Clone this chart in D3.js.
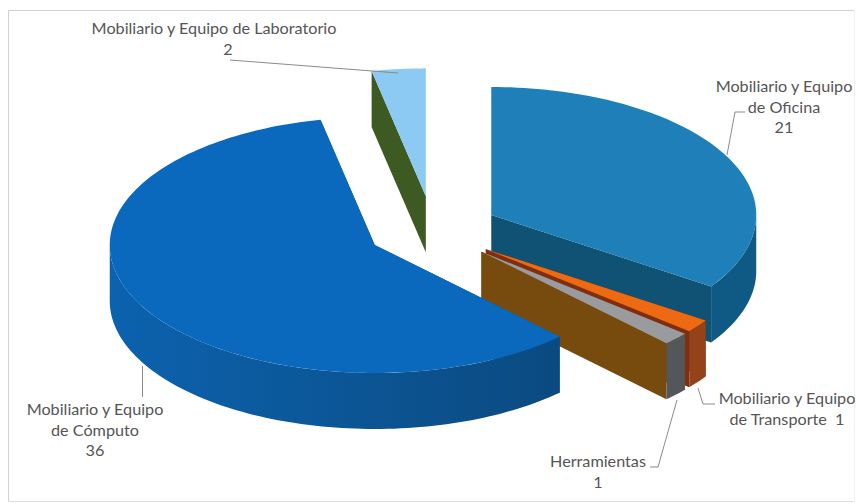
<!DOCTYPE html>
<html>
<head>
<meta charset="utf-8">
<script src="https://cdn.jsdelivr.net/npm/d3@7"></script>
<style>
  html, body { margin: 0; padding: 0; background: #fff; }
  text { font-family: Lato, "Open Sans", sans-serif; font-size: 16.2px; fill: #555; }
</style>
</head>
<body>
<svg width="858" height="504"></svg>
<script>
// datos del grafico
const categorias = ["Mobiliario y Equipo de Oficina", "Mobiliario y Equipo de Transporte", "Herramientas", "Mobiliario y Equipo de Cómputo", "Mobiliario y Equipo de Laboratorio"];
const valores = [21, 1, 1, 36, 2];

// colores: tapa, pared radial, borde exterior
const colorTapa = ["#1f7fb9", "#ee6a12", "#9a9b9e", "#0a69bd", "#8ccaf3"];
const colorPared = ["#0f5273", "#7e2f12", "#774a0d", "#0b4f8e", "#3d5a22"];
const colorBorde = ["#0f5a84", "#93421a", "#55565a", "url(#bordeComputo)", "#3d5a22"];

const svg = d3.select("svg");

// degradado del borde de la rebanada grande
const grad = svg.append("defs").append("linearGradient").attr("id", "bordeComputo");
grad.append("stop").attr("offset", "0%").attr("stop-color", "#0c62ae");
grad.append("stop").attr("offset", "100%").attr("stop-color", "#0b4a80");

// geometria del pastel
const centro = { x: 433, y: 230 };
const radioX = 265, radioY = 128, alto = 56;
const explosion = [66, 66, 66, 66, 70];

const pie = d3.pie().sort(null).value(d => d);
const arcos = pie(valores);

function punto(a, ap, z) {
  return [ap[0] + radioX * Math.sin(a), ap[1] - radioY * Math.cos(a) + z];
}
function tramo(a0, a1, ap, z) {
  const n = Math.max(2, Math.ceil((a1 - a0) * 40));
  return d3.range(n + 1).map(i => punto(a0 + (a1 - a0) * i / n, ap, z));
}
const linea = d3.line();

// marco del grafico
svg.append("path").attr("d", "M8.5,501.5V10.5H854").attr("fill", "none").attr("stroke", "#d0d0d0");
svg.append("path").attr("d", "M8.5,501.5H854").attr("fill", "none").attr("stroke", "#dcdcdc");
svg.append("path").attr("d", "M854.5,10.5V501.5").attr("fill", "none").attr("stroke", "#f0f0f0");

// orden de pintado: de atras hacia adelante
const orden = [4, 0, 1, 2, 3];
orden.forEach(i => {
  const d = arcos[i];
  const medio = (d.startAngle + d.endAngle) / 2;
  const e = explosion[i];
  const ap = [centro.x + e * Math.sin(medio), centro.y - e * Math.cos(medio) * radioY / radioX];
  const g = svg.append("g").attr("class", "rebanada");

  [d.startAngle, d.endAngle].forEach(a => {
    const p = punto(a, ap, 0), q = punto(a, ap, alto);
    g.append("path")
      .attr("d", linea([ap, p, q, [ap[0], ap[1] + alto]]) + "Z")
      .attr("fill", colorPared[i]);
  });

  // borde exterior: solo la parte que mira al frente
  const b0 = Math.max(d.startAngle, Math.PI / 2), b1 = Math.min(d.endAngle, 3 * Math.PI / 2);
  if (b1 > b0) {
    const arriba = tramo(b0, b1, ap, 0), abajo = tramo(b0, b1, ap, alto).reverse();
    g.append("path").attr("d", linea(arriba.concat(abajo)) + "Z").attr("fill", colorBorde[i]);
  }

  const tapa = [ap].concat(tramo(d.startAngle, d.endAngle, ap, 0));
  g.append("path").attr("d", linea(tapa) + "Z").attr("fill", colorTapa[i]);
});

// etiquetas
const etiquetas = [
  { lineas: ["Mobiliario y Equipo", "de Oficina", "21"], x: 784, y: 92 },
  { lineas: ["Mobiliario y Equipo", "de Transporte\u00a0\u00a01"], x: 787, y: 404 },
  { lineas: ["Herramientas", "1"], x: 598, y: 467 },
  { lineas: ["Mobiliario y Equipo", "de Cómputo", "36"], x: 95, y: 415 },
  { lineas: ["Mobiliario y Equipo de Laboratorio"], x: 214, y: 34 },
  { lineas: ["2"], x: 228, y: 55 }
];
etiquetas.forEach(t => {
  const txt = svg.append("text").attr("text-anchor", "middle");
  t.lineas.forEach((l, j) => txt.append("tspan").attr("x", t.x).attr("y", t.y + j * 20.5).text(l));
});

// lineas guia
const guias = [
  [[230, 60], [398, 73]],
  [[745, 112], [735, 112], [727, 155]],
  [[142.5, 366], [142.5, 397]],
  [[698, 388], [703, 404], [715, 404]],
  [[677, 400], [658, 467], [650, 467]]
];
guias.forEach(p => {
  svg.append("path").attr("d", linea(p)).attr("fill", "none").attr("stroke", "#8a8a8a").attr("stroke-width", 1);
});
</script>
</body>
</html>
